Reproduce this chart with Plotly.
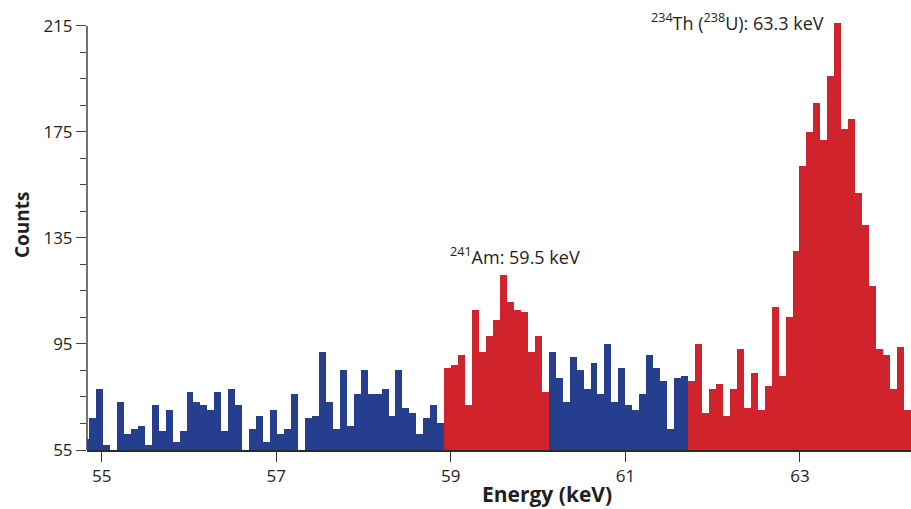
import plotly.graph_objects as go

# Channel calibration of the spectrum (keV)
first_bin_center = 54.815
bin_width = 0.0798

# Counts per channel (values < 55 are hidden below the axis)
counts = [
    59, 67, 78, 57, 54, 73, 61, 63, 64, 57,
    72, 62, 70, 58, 62, 77, 73, 72, 70, 77,
    62, 78, 72, 54, 63, 68, 58, 70, 61, 63,
    76, 54, 67, 68, 92, 73, 63, 85, 64, 76,
    85, 76, 76, 78, 68, 85, 71, 69, 61, 67,
    72, 65, 86, 87, 91, 72, 108, 92, 98, 104,
    121, 111, 108, 107, 92, 98, 77, 92, 82, 73,
    90, 85, 78, 88, 76, 95, 73, 86, 72, 70,
    76, 91, 86, 81, 63, 82, 83, 81, 95, 69,
    78, 80, 68, 78, 93, 71, 84, 70, 79, 109,
    83, 105, 130, 162, 175, 186, 172, 196, 216, 176,
    180, 152, 140, 117, 93, 91, 78, 94, 70, 74,
]

# Channel index ranges (1-based, inclusive) highlighted as photopeak regions
am_region = (53, 67)
th_region = (88, 120)

x_ticks = [55, 57, 59, 61, 63]
y_ticks = [55, 95, 135, 175, 215]

BLUE = "#253e8d"
RED = "#d1232b"

energies = [first_bin_center + i * bin_width for i in range(len(counts))]
colors = []
for i in range(len(counts)):
    k = i + 1
    if am_region[0] <= k <= am_region[1] or th_region[0] <= k <= th_region[1]:
        colors.append(RED)
    else:
        colors.append(BLUE)

fig = go.Figure()
fig.add_trace(go.Bar(
    x=energies, y=counts, width=bin_width,
    marker=dict(color=colors, line=dict(width=0)),
    hoverinfo="x+y",
))

FONT = "Open Sans"
fig.update_layout(
    width=911, height=509,
    margin=dict(l=87, r=0, t=10, b=59),
    plot_bgcolor="white", paper_bgcolor="white",
    showlegend=False, bargap=0,
    font=dict(family=FONT, color="#231f20"),
    xaxis=dict(
        range=[54.832, 64.272],
        tickvals=x_ticks, ticktext=[str(v) for v in x_ticks],
        ticks="outside", ticklen=10, tickwidth=1.2, tickcolor="#333",
        showline=True, linecolor="#2a2a2a", linewidth=2,
        showgrid=False, zeroline=False,
        tickfont=dict(size=17, family=FONT, color="#231f20"),
    ),
    yaxis=dict(
        range=[55, 221],
        tickvals=y_ticks, ticktext=[str(v) for v in y_ticks],
        ticks="outside", ticklen=10, tickwidth=1.2, tickcolor="#444",
        minor=dict(dtick=10, tick0=55, ticks="outside", ticklen=6,
                   tickwidth=1.2, tickcolor="#444", showgrid=False),
        showline=False, showgrid=False, zeroline=False,
        tickfont=dict(size=17, family=FONT, color="#231f20"),
    ),
)

# y axis line spanning only the labelled range
fig.add_shape(type="line", xref="paper", yref="y", x0=0, x1=0,
              y0=y_ticks[0], y1=y_ticks[-1],
              line=dict(color="#444", width=1.5), layer="above")

fig.add_annotation(text="<b>Energy (keV)</b>", xref="paper", yref="paper",
                   x=(547 - 87) / 824, y=-(494 - 450) / 440,
                   xanchor="center", yanchor="middle", showarrow=False,
                   font=dict(size=21, family=FONT, color="#231f20"))
fig.add_annotation(text="<b>Counts</b>", xref="paper", yref="paper",
                   x=-(87 - 22) / 824, y=(450 - 225) / 440, textangle=-90,
                   xanchor="center", yanchor="middle", showarrow=False,
                   font=dict(size=19, family=FONT, color="#231f20"))

fig.add_annotation(text="<sup>241</sup>Am: 59.5 keV", xref="x", yref="y",
                   x=59.737, y=128.2, xanchor="center", yanchor="middle",
                   showarrow=False,
                   font=dict(size=18, family=FONT, color="#231f20"))
fig.add_annotation(text="<sup>234</sup>Th (<sup>238</sup>U): 63.3 keV", xref="x", yref="y",
                   x=62.29, y=216.5, xanchor="center", yanchor="middle",
                   showarrow=False,
                   font=dict(size=18, family=FONT, color="#231f20"))

fig.write_html("out.html")
